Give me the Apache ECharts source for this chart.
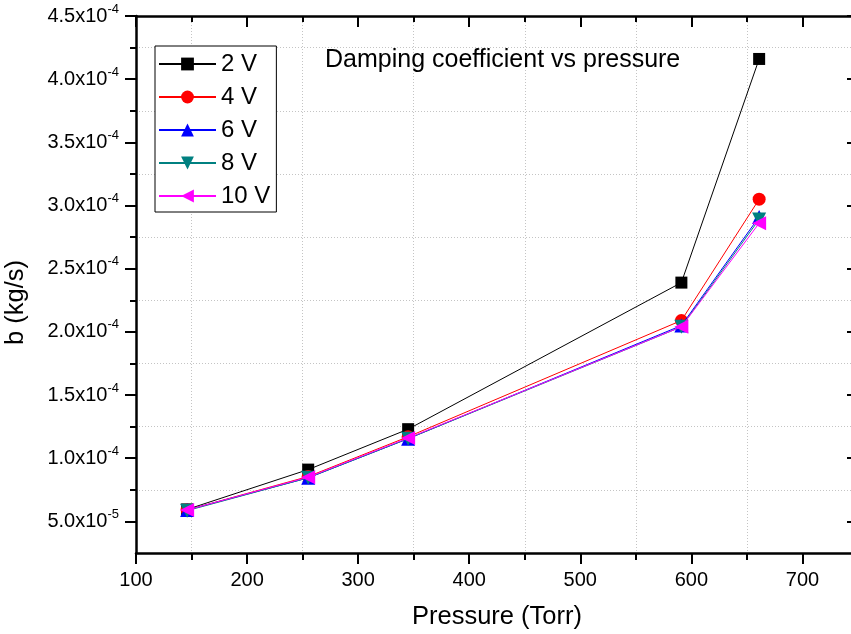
<!DOCTYPE html>
<html><head><meta charset="utf-8">
<script src="https://cdn.jsdelivr.net/npm/echarts@6/dist/echarts.min.js"></script>
<style>html,body{margin:0;padding:0;background:#fff}#c{width:851px;height:634px}</style>
</head><body><div id="c"></div>
<script>
// ---- data ----
const pressure = [146, 255, 345, 591, 661];
const b2V  = [5.95e-5, 9.1e-5, 1.23e-4, 2.39e-4, 4.16e-4];
const b4V  = [5.9e-5, 8.55e-5, 1.17e-4, 2.09e-4, 3.05e-4];
const b6V  = [5.9e-5, 8.45e-5, 1.155e-4, 2.05e-4, 2.91e-4];
const b8V  = [5.85e-5, 8.45e-5, 1.155e-4, 2.04e-4, 2.89e-4];
const b10V = [5.9e-5, 8.5e-5, 1.16e-4, 2.04e-4, 2.86e-4];
const seriesNames = ['2 V', '4 V', '6 V', '8 V', '10 V'];
const xTicks = [100, 200, 300, 400, 500, 600, 700];
const xMinorTicks = [150, 250, 350, 450, 550, 650];
const yTicks = [5e-5, 1e-4, 1.5e-4, 2e-4, 2.5e-4, 3e-4, 3.5e-4, 4e-4, 4.5e-4];
const yTickMantissa = ['5.0', '1.0', '1.5', '2.0', '2.5', '3.0', '3.5', '4.0', '4.5'];
const yTickExponent = ['-5', '-4', '-4', '-4', '-4', '-4', '-4', '-4', '-4'];
const yMinorTicks = [7.5e-5, 1.25e-4, 1.75e-4, 2.25e-4, 2.75e-4, 3.25e-4, 3.75e-4, 4.25e-4];

const FONT = '"Liberation Sans", Arial, sans-serif';
const BLACK = '#000';
const xMin = 100, xMax = 750, yMin = 2.5e-5, yMax = 4.5e-4;

function yLabel(v) {
  for (let i = 0; i < yTicks.length; i++) {
    if (Math.abs(v - yTicks[i]) < 1e-9) return '{m|' + yTickMantissa[i] + 'x10}{s|' + yTickExponent[i] + '}';
  }
  return '';
}

const tickStyle = {color: BLACK, width: 2};
const axisLineStyle = {color: BLACK, width: 2.5};
function xAx(pos, ticks, len, inside, line, extra) {
  return Object.assign({
    type: 'value', position: pos, min: xMin, max: xMax, offset: 0,
    axisLine: {show: line, onZero: false, lineStyle: axisLineStyle},
    axisTick: {show: true, customValues: ticks, length: len, inside: inside, lineStyle: tickStyle},
    axisLabel: {show: false},
    splitLine: {show: false}
  }, extra || {});
}
function yAx(pos, ticks, len, inside, line, extra) {
  return Object.assign({
    type: 'value', position: pos, min: yMin, max: yMax, offset: 0,
    axisLine: {show: line, onZero: false, lineStyle: axisLineStyle},
    axisTick: {show: true, customValues: ticks, length: len, inside: inside, lineStyle: tickStyle},
    axisLabel: {show: false},
    splitLine: {show: false}
  }, extra || {});
}
const gridLine = {show: true, lineStyle: {color: '#c4c4c4', width: 1, type: [1, 2]}};

const xAxes = [
  xAx('bottom', xTicks, 11, false, true, {
    axisLabel: {show: true, customValues: xTicks, margin: 17, color: BLACK, fontSize: 20, fontFamily: FONT},
    name: 'Pressure (Torr)', nameLocation: 'middle', nameGap: 51,
    nameTextStyle: {color: BLACK, fontSize: 25.5, fontFamily: FONT}
  }),
  xAx('bottom', xMinorTicks, 7, false, false, {splitLine: gridLine}),
  xAx('top', xTicks, 11, true, true),
  xAx('top', xMinorTicks, 6, true, false)
];
const yAxes = [
  yAx('left', yTicks, 11, false, true, {
    axisLabel: {show: true, customValues: yTicks, margin: 17, formatter: yLabel,
      rich: {
        m: {fontSize: 20, color: BLACK, fontFamily: FONT},
        s: {fontSize: 13, color: BLACK, fontFamily: FONT, padding: [0, 0, 14, 0]}
      }},
    name: 'b (kg/s)', nameLocation: 'middle', nameGap: 107,
    nameTextStyle: {color: BLACK, fontSize: 25.5, fontFamily: FONT, padding: [0, 36, 0, 0]}
  }),
  yAx('left', yMinorTicks, 6, false, false, {splitLine: gridLine}),
  yAx('right', yTicks, 11, true, true),
  yAx('right', yMinorTicks, 6, true, false)
];

const colors = ['#000000', '#ff0000', '#0000ff', '#008080', '#ff00ff'];
const symbols = ['rect', 'circle', 'triangle', 'path://M0,0 L10,0 L5,9 Z', 'path://M9,0 L9,10 L0,5 Z'];
const sizes = [12, 13, 14, 14, 14];
const values = [b2V, b4V, b6V, b8V, b10V];

const series = values.map((vals, i) => ({
  name: seriesNames[i], type: 'line', xAxisIndex: 0, yAxisIndex: 0,
  data: pressure.map((p, j) => [p, vals[j]]),
  symbol: symbols[i], symbolSize: sizes[i], showAllSymbol: true,
  lineStyle: {color: colors[i], width: 1},
  itemStyle: {color: colors[i], borderWidth: 0},
  emphasis: {disabled: true},
  z: 2 + i,
  animation: false
}));

const chart = echarts.init(document.getElementById('c'), null, {renderer: 'canvas'});
chart.setOption({
  animation: false,
  backgroundColor: '#fff',
  title: {text: 'Damping coefficient vs pressure', left: 325, top: 48, padding: 0,
    textStyle: {fontSize: 25, fontWeight: 'normal', color: BLACK, fontFamily: FONT}},
  legend: {
    orient: 'vertical', left: 155, top: 46,
    data: seriesNames,
    backgroundColor: '#fff', borderColor: BLACK, borderWidth: 1, borderRadius: 0,
    padding: [6, 6, 4, 3], itemWidth: 57, itemHeight: 16, itemGap: 9,
    textStyle: {fontSize: 24, lineHeight: 22, color: BLACK, fontFamily: FONT},
    selectedMode: false
  },
  grid: {left: 136, right: -7, top: 16, bottom: 81, containLabel: false, outerBoundsMode: 'none'},
  xAxis: xAxes,
  yAxis: yAxes,
  series: series
});
</script></body></html>
